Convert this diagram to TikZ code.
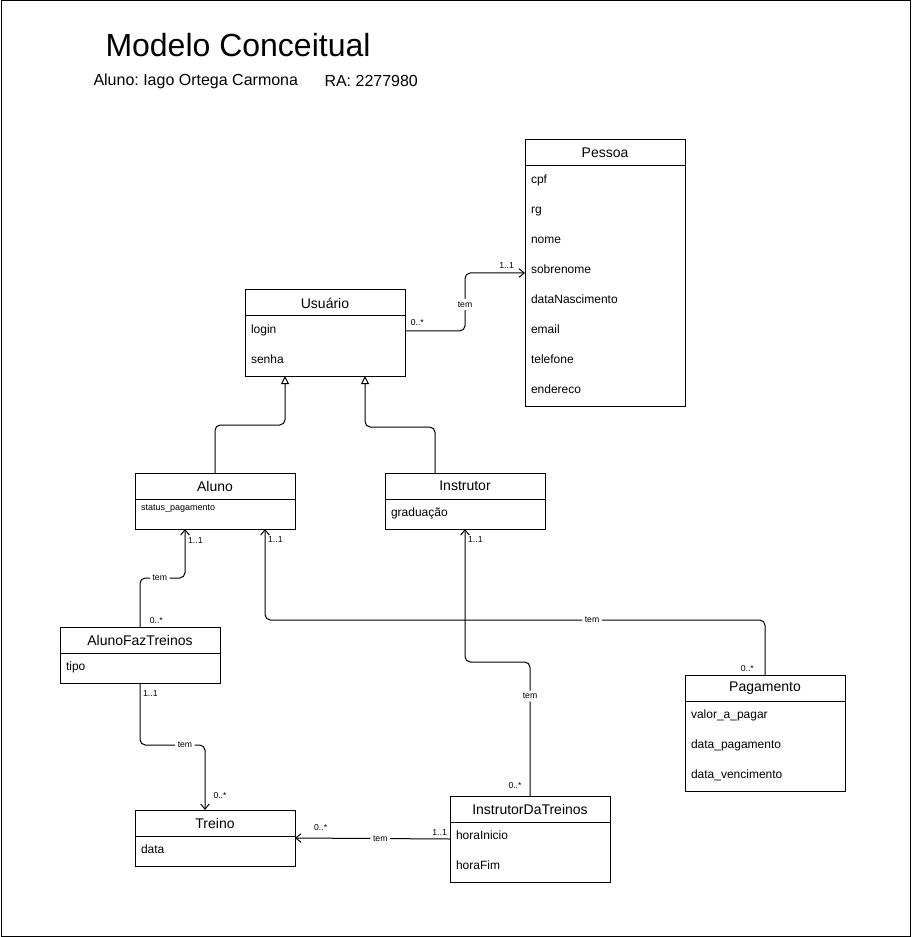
\documentclass[tikz,border=0pt]{standalone}
\usepackage{fontspec}
\setmainfont{Liberation Sans}
\usetikzlibrary{arrows.meta, positioning, calc}
\frenchspacing

\begin{document}
\begin{tikzpicture}[
        x=0.75pt, y=-0.75pt,
        line width=0.75pt,
        % Caixas das classes
        classe/.style={draw, rectangle, fill=white, minimum width=120pt, minimum height=19.5pt, inner sep=0pt, outer sep=0pt, font=\fontsize{10.5}{12}\selectfont},
        atributos/.style={draw, rectangle, fill=white, minimum width=120pt, text width=111pt, inner xsep=4.5pt, inner ysep=0pt, outer sep=0pt, align=left, font=\fontsize{9}{22.5}\selectfont, minimum height=#1*22.5pt, execute at end node={\rule[-3pt]{0pt}{0pt}}},
        heranca/.style={-{Triangle[open, length=6pt, width=6pt, fill=white]}, rounded corners=4pt},
        assoc/.style={-{Straight Barb[length=4pt, width=6.5pt]}, rounded corners=4pt},
        rotulo/.style={fill=white, inner sep=2pt, font=\fontsize{6.5}{8}\selectfont},
        mult/.style={inner sep=2pt, font=\fontsize{6.5}{8}\selectfont}
    ]
        \useasboundingbox (0,0) rectangle (911,937);
        \draw (1,1) rectangle (910,936);

        % Titulo
        \node[anchor=west, inner sep=0pt, font=\fontsize{24}{28}\selectfont] (titulo) at (105,45) {Modelo Conceitual};
        \node[anchor=west, inner sep=0pt, font=\fontsize{12}{14}\selectfont] (nome) at (93,81) {Aluno: Iago Ortega Carmona};
        \node[anchor=west, inner sep=0pt, font=\fontsize{12}{14}\selectfont] (ra) at (324,81) {RA: 2277980};

        % Classes
        \node[classe] (pessoa) at (605,153) {Pessoa};
        \node[atributos=8, below=0pt of pessoa] (pessoa-at) {cpf\\rg\\nome\\sobrenome\\dataNascimento\\email\\telefone\\endereco};

        \node[classe] (usuario) at (325,303) {Usuário};
        \node[atributos=2, below=0pt of usuario] (usuario-at) {login\\senha};

        \node[classe] (aluno) at (215,486) {Aluno};
        \node[atributos=1, below=0pt of aluno, font=\fontsize{6.75}{8}\selectfont] (aluno-at) {\raisebox{1.5pt}[0pt][0pt]{status\_pagamento}};

        \node[classe] (instrutor) at (465,486) {Instrutor};
        \node[atributos=1, below=0pt of instrutor] (instrutor-at) {graduação};

        \node[classe] (afz) at (140,640) {AlunoFazTreinos};
        \node[atributos=1, below=0pt of afz] (afz-at) {tipo};

        \node[classe] (pagamento) at (765,688) {Pagamento};
        \node[atributos=3, below=0pt of pagamento] (pagamento-at) {valor\_a\_pagar\\data\_pagamento\\data\_vencimento};

        \node[classe] (treino) at (215,823) {Treino};
        \node[atributos=1, below=0pt of treino] (treino-at) {data};

        \node[classe] (idt) at (530,809) {InstrutorDaTreinos};
        \node[atributos=2, below=0pt of idt] (idt-at) {horaInicio\\horaFim};

        % Heranca
        \draw[heranca] (aluno.north) -- ++(0,-48) -| ($(usuario-at.south)+(-40,0)$);
        \draw[heranca] ($(instrutor.north)+(-30,0)$) -- ++(0,-46) -| ($(usuario-at.south)+(40,0)$);

        % Associacoes
        \draw[assoc] ($(usuario-at.north east)+(0,15)$) -- node[mult, at start, above right, xshift=2pt, yshift=2pt]{0..*} ++(60,0)
            |- node[rotulo, pos=0.23]{tem} node[mult, at end, above left, xshift=-6pt, yshift=1pt]{1..1} ($(pessoa-at.north west)+(0,107)$);

        \draw[assoc] (afz.north) -- node[mult, at start, above right, xshift=5pt]{0..*} ++(0,-49)
            -| node[rotulo, pos=0.22]{tem} node[mult, at end, below right, yshift=-4pt]{1..1} ($(aluno-at.south)+(-30,0)$);

        \draw[assoc] (pagamento.north) -- node[mult, at start, above left, xshift=-6pt]{0..*} ++(0,-55)
            -| node[rotulo, pos=0.173]{tem} node[mult, at end, below right, yshift=-3pt]{1..1} ($(aluno-at.south)+(50,0)$);

        \draw[assoc] (idt.north) -- node[mult, at start, above left, xshift=-4pt, yshift=3pt]{0..*} node[rotulo, pos=0.746]{tem} ++(0,-134)
            -| node[mult, at end, below right, yshift=-3pt]{1..1} (instrutor-at.south);

        \draw[assoc] (afz-at.south) -- node[mult, at start, below right, yshift=-3pt]{1..1} ++(0,62)
            -| node[rotulo, pos=0.346]{tem} node[mult, at end, above right, xshift=4pt, yshift=6pt]{0..*} ($(treino.north)+(-10,0)$);

        \draw[assoc] ($(idt-at.north west)+(0,17)$) -- node[mult, at start, above left]{1..1} node[rotulo, pos=0.45]{tem}
            node[mult, at end, above right, xshift=12pt, yshift=3pt]{0..*} ($(treino-at.north east)+(0,2)$);

    \end{tikzpicture}
\end{document}
